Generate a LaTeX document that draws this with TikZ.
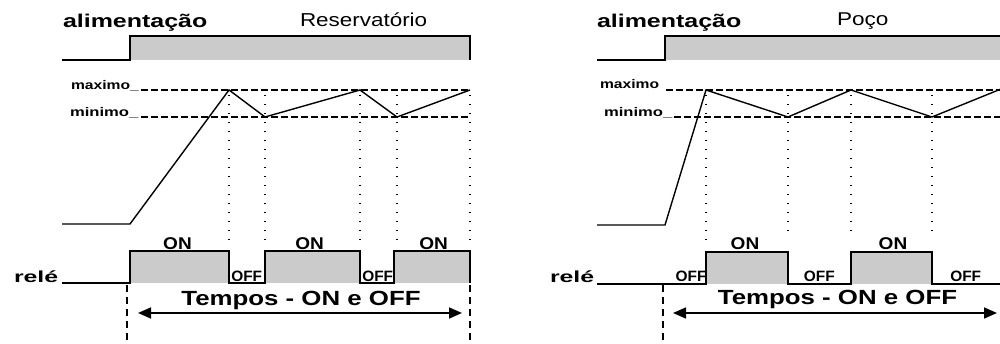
\documentclass[tikz,border=0pt]{standalone}
\usepackage{fontspec}
\usepackage{graphicx}
\setmainfont{Liberation Sans}
\usetikzlibrary{arrows.meta}
\definecolor{fillgray}{RGB}{203,203,203}
\newcommand{\stx}[3]{\scalebox{#1}[1]{\fontsize{#2}{#2}\selectfont #3}}
\tikzset{
  lbl/.style={inner sep=0pt, outer sep=0pt},
  sig/.style={line width=1.4pt, line join=miter},
  onfill/.style={fill=fillgray},
  limit/.style={line width=1.3pt, dash pattern=on 7pt off 3pt},
  marker/.style={line width=1.2pt, dash pattern=on 1.3pt off 7.7pt},
  spanline/.style={line width=1.1pt, dash pattern=on 7pt off 5pt},
  span/.style={line width=1.6pt, {Triangle[length=13pt,width=11pt]}-{Triangle[length=13pt,width=11pt]}}
}
\begin{document}
\begin{tikzpicture}[x=1pt,y=-1pt]
\useasboundingbox (0,0) rectangle (1000,344);

% ================= LEFT: Reservatorio =================
\node[lbl,anchor=base west] (aliL) at (63,27.5) {\stx{1.35}{18.5}{\bfseries alimentação}};
\node[lbl,anchor=base west] (resL) at (300,26.5) {\stx{1.2}{18.7}{Reservatório}};
% power
\fill[onfill] (130,36) rectangle (470,60);
\draw[sig] (62,60) -- (130,60) -- (130,36) -- (470,36) -- (470,60);
% levels
\node[lbl,anchor=base west] (maxL) at (71,89.5) {\stx{1.25}{12.5}{\bfseries maximo\_}};
\node[lbl,anchor=base west] (minL) at (70,117) {\stx{1.33}{12.5}{\bfseries minimo\_}};
\draw[limit] (141,90) -- (470,90);
\draw[limit] (141,117) -- (470,117);
% markers
\foreach \x in {229,265,360,397,470}
  \draw[marker] (\x,95) -- (\x,242);
% level curve
\draw[sig] (62,224) -- (130,224) -- (229,90) -- (265,117) -- (360,90) -- (397,117) -- (470,90);
% relay
\node[lbl,anchor=base] (on1L) at (177.5,250) {\stx{1.12}{17}{\bfseries ON}};
\node[lbl,anchor=base] (on2L) at (309.7,250) {\stx{1.12}{17}{\bfseries ON}};
\node[lbl,anchor=base] (on3L) at (433.7,250) {\stx{1.12}{17}{\bfseries ON}};
\fill[onfill] (130,251) rectangle (229,283);
\fill[onfill] (265,251) rectangle (360,283);
\fill[onfill] (394,251) rectangle (470,283);
\draw[sig] (62,283) -- (130,283) -- (130,251) -- (229,251) -- (229,283) -- (265,283) -- (265,251) -- (360,251) -- (360,283) -- (394,283) -- (394,251) -- (470,251) -- (470,283);
\node[lbl,anchor=base] (off1L) at (246.7,281.5) {\stx{1.03}{15}{\bfseries OFF}};
\node[lbl,anchor=base] (off2L) at (377.7,281.5) {\stx{1.03}{15}{\bfseries OFF}};
\node[lbl,anchor=base west] (relL) at (14,282.5) {\stx{1.55}{16}{\bfseries relé}};
% span
\coordinate (sLa) at (127,285);
\coordinate (sLb) at (127,344);
\coordinate (sLc) at (470,285);
\coordinate (sLd) at (470,344);
\draw[spanline] (sLa) -- (sLb);
\draw[spanline] (sLc) -- (sLd);
\node[lbl,anchor=base] (tL) at (301,305.5) {\stx{1.26}{20.5}{\bfseries Tempos - ON e OFF}};
\coordinate (aL1) at (138,313);
\coordinate (aL2) at (462,313);
\draw[span] (aL1) -- (aL2);

% ================= RIGHT: Poco =================
\node[lbl,anchor=base west] (aliR) at (597,27.5) {\stx{1.35}{18.5}{\bfseries alimentação}};
\node[lbl,anchor=base west] (pocR) at (837,25.5) {\stx{1.22}{18.5}{Poço}};
\fill[onfill] (665,36) rectangle (1000,60);
\draw[sig] (597,60) -- (665,60) -- (665,36) -- (1001,36);
\node[lbl,anchor=base west] (maxR) at (600,88.3) {\stx{1.25}{12.5}{\bfseries maximo}};
\node[lbl,anchor=base west] (minR) at (604,116.7) {\stx{1.33}{12.5}{\bfseries minimo\_}};
\draw[limit] (666,90) -- (1001,90);
\draw[limit] (674,117) -- (1001,117);
\foreach \x/\e in {706/240,788/236,851/236,932/236}
  \draw[marker] (\x,95) -- (\x,\e);
\draw[sig] (597,225) -- (665,225) -- (706,90) -- (788,117) -- (851,90) -- (932,117) -- (1001,89);
\node[lbl,anchor=base] (on1R) at (745,250) {\stx{1.12}{17}{\bfseries ON}};
\node[lbl,anchor=base] (on2R) at (893,250) {\stx{1.12}{17}{\bfseries ON}};
\node[lbl,anchor=base] (off1R) at (691,282) {\stx{1.03}{15}{\bfseries OFF}};
\node[lbl,anchor=base] (off2R) at (819.3,282) {\stx{1.03}{15}{\bfseries OFF}};
\node[lbl,anchor=base] (off3R) at (965.7,282) {\stx{1.03}{15}{\bfseries OFF}};
\fill[onfill] (706,252) rectangle (788,284);
\fill[onfill] (851,252) rectangle (932,284);
\draw[sig] (597,284) -- (706,284) -- (706,252) -- (788,252) -- (788,284) -- (851,284) -- (851,252) -- (932,252) -- (932,284) -- (1001,284);
\node[lbl,anchor=base west] (relR) at (550,282.5) {\stx{1.55}{16}{\bfseries relé}};
\coordinate (sRa) at (663,285);
\coordinate (sRb) at (663,344);
\draw[spanline] (sRa) -- (sRb);
\node[lbl,anchor=base] (tR) at (837.5,305) {\stx{1.26}{20.5}{\bfseries Tempos - ON e OFF}};
\coordinate (aR1) at (673,313);
\coordinate (aR2) at (997,313);
\draw[span] (aR1) -- (aR2);
\end{tikzpicture}
\end{document}
